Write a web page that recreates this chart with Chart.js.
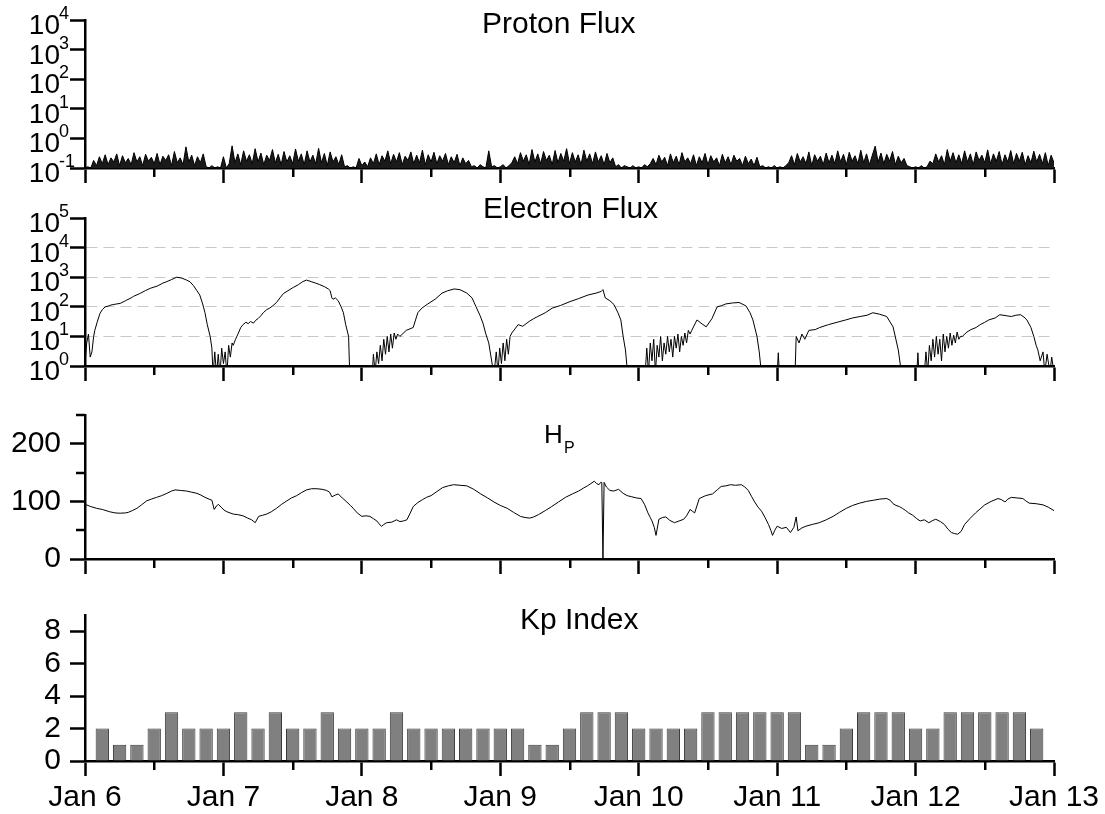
<!DOCTYPE html>
<html><head><meta charset="utf-8">
<script src="https://cdn.jsdelivr.net/npm/chart.js@4.4.1/dist/chart.umd.min.js"></script>
<style>
html,body{margin:0;padding:0;background:#fff;width:1105px;height:814px;overflow:hidden}
canvas{position:absolute;left:0}
</style></head><body>
<canvas id="c1" width="1105" height="190" style="top:0px"></canvas>
<canvas id="c2" width="1105" height="198" style="top:190px"></canvas>
<canvas id="c3" width="1105" height="198" style="top:388px"></canvas>
<canvas id="c4" width="1105" height="226" style="top:588px"></canvas>
<script>
// ---------- data ----------
const dayTicks = [0, 24, 48, 72, 96, 120, 144, 168];
const dayLabels = ['Jan 6', 'Jan 7', 'Jan 8', 'Jan 9', 'Jan 10', 'Jan 11', 'Jan 12', 'Jan 13'];
const minorHours = [12, 36, 60, 84, 108, 132, 156];

const protonDecades = [0.1, 1, 10, 100, 1000, 10000];
const protonExponents = ['-1', '0', '1', '2', '3', '4'];
const protonStepHours = 0.5;
const protonFlux = [
 0.1,0.11,0.1,0.18,0.12,0.24,0.14,0.28,0.13,0.22,0.16,0.3,0.12,0.26,0.15,0.21,0.13,0.33,0.16,0.24,0.12,0.29,0.17,0.23,
 0.14,0.31,0.13,0.25,0.18,0.28,0.12,0.36,0.15,0.22,0.13,0.52,0.16,0.27,0.12,0.24,0.15,0.3,0.11,0.1,0.12,0.1,0.11,0.1,
 0.24,0.1,0.14,0.56,0.15,0.3,0.13,0.38,0.17,0.28,0.14,0.45,0.16,0.32,0.13,0.27,0.18,0.42,0.15,0.29,0.13,0.36,0.16,0.26,
 0.14,0.44,0.17,0.3,0.13,0.38,0.16,0.27,0.14,0.46,0.15,0.31,0.12,0.35,0.16,0.24,0.13,0.28,0.11,0.12,0.1,0.11,0.1,0.21,
 0.12,0.16,0.11,0.22,0.14,0.3,0.13,0.26,0.17,0.38,0.14,0.29,0.16,0.33,0.13,0.25,0.18,0.35,0.14,0.27,0.15,0.4,0.13,0.28,
 0.16,0.34,0.14,0.26,0.17,0.31,0.13,0.24,0.15,0.29,0.12,0.22,0.14,0.18,0.11,0.12,0.1,0.13,0.11,0.1,0.38,0.11,0.12,0.1,
 0.11,0.13,0.1,0.12,0.15,0.24,0.14,0.33,0.17,0.28,0.13,0.42,0.16,0.3,0.14,0.36,0.18,0.27,0.13,0.39,0.15,0.31,0.17,0.45,
 0.14,0.33,0.16,0.28,0.13,0.4,0.17,0.3,0.14,0.35,0.16,0.26,0.13,0.31,0.15,0.22,0.11,0.13,0.1,0.12,0.11,0.1,0.12,0.1,
 0.11,0.1,0.13,0.11,0.14,0.21,0.13,0.27,0.16,0.23,0.12,0.3,0.15,0.25,0.13,0.33,0.16,0.22,0.14,0.28,0.12,0.24,0.15,0.31,
 0.13,0.26,0.16,0.22,0.12,0.29,0.15,0.24,0.13,0.27,0.17,0.21,0.12,0.25,0.14,0.2,0.12,0.23,0.11,0.12,0.1,0.11,0.1,0.12,
 0.1,0.11,0.1,0.12,0.15,0.26,0.13,0.31,0.16,0.24,0.14,0.35,0.12,0.28,0.17,0.25,0.13,0.32,0.15,0.27,0.14,0.38,0.16,0.29,
 0.13,0.34,0.17,0.26,0.14,0.4,0.15,0.3,0.13,0.27,0.55,0.16,0.32,0.14,0.29,0.17,0.36,0.13,0.25,0.15,0.21,0.12,0.11,0.1,
 0.11,0.1,0.12,0.1,0.11,0.17,0.14,0.3,0.16,0.26,0.13,0.42,0.17,0.33,0.15,0.28,0.14,0.38,0.16,0.3,0.13,0.35,0.18,0.27,
 0.15,0.41,0.14,0.3,0.17,0.36,0.13,0.28,0.16,0.39,0.14,0.31,0.17,0.34,0.13,0.26,0.15,0.37,0.16,0.29,0.14,0.33,0.12,0.27,
 0.15
];

const electronDecades = [1, 10, 100, 1000, 10000, 100000];
const electronExponents = ['0', '1', '2', '3', '4', '5'];
const electronGridDecades = [10, 100, 1000, 10000];
const electronHours = [
 0.0,0.3,0.6,0.9,1.2,1.5,1.7,2.1,2.6,3.0,
 3.5,4.0,4.5,5.0,5.5,6.1,7.0,8.0,8.4,9.5,
 10.5,11.3,12.5,13.5,14.2,15.0,15.9,16.8,17.6,18.2,
 18.8,19.4,19.9,20.4,20.8,21.2,21.7,22.0,22.2,22.5,
 22.8,23.1,23.4,23.7,24.0,24.3,24.6,24.9,25.2,25.5,
 25.7,26.1,26.6,27.0,27.4,27.9,28.3,28.7,29.2,29.6,
 30.0,30.5,30.9,31.5,32.0,32.6,33.2,33.8,34.4,35.2,
 36.1,37.0,37.7,38.4,39.2,40.0,40.7,41.5,42.2,42.5,
 42.8,43.0,43.4,43.9,44.4,44.8,45.2,45.7,45.9,49.8,
 50.0,50.3,50.6,50.9,51.2,51.5,51.8,52.1,52.4,52.7,
 53.0,53.3,53.6,53.9,54.2,54.6,55.7,56.9,57.7,58.4,
 59.3,60.7,61.9,62.9,64.0,65.0,66.2,67.1,67.8,68.5,
 69.0,69.5,70.0,70.9,71.3,71.6,71.9,72.2,72.5,72.8,
 73.1,73.4,73.7,74.0,75.1,75.9,77.0,77.8,78.5,79.8,
 81.0,82.4,84.1,85.6,87.2,88.6,89.5,89.8,90.2,91.0,
 91.7,92.4,92.9,93.3,93.7,94.1,97.1,97.4,97.7,98.0,
 98.3,98.6,98.9,99.2,99.5,99.8,100.1,100.4,100.7,101.0,
 101.3,101.6,101.9,102.2,102.5,102.8,103.1,103.4,103.7,104.0,
 104.3,104.6,104.9,105.2,106.1,106.8,107.7,108.7,109.6,110.4,
 111.1,112.3,113.4,114.6,115.3,115.8,116.5,116.9,117.3,120.0,
 120.2,120.4,123.1,123.3,123.8,124.3,124.8,125.5,126.6,127.4,
 128.9,130.4,131.9,133.1,134.4,135.6,136.6,137.8,139.0,140.1,
 141.0,141.6,144.2,144.4,144.6,145.5,145.8,146.1,146.4,146.7,
 147.0,147.3,147.6,147.9,148.2,148.5,148.8,149.1,149.4,149.7,
 150.0,150.3,150.6,150.9,151.2,151.5,151.8,152.1,152.9,153.6,
 154.5,155.2,156.0,156.7,157.8,158.6,159.7,160.6,161.4,162.2,
 162.8,163.3,164.0,164.5,164.9,165.2,165.6,166.1,166.4,166.8,
 167.3,167.6,168.0
];
const electronFlux = [
 1.3,6,12,2,3,10,16,30,60,80,
 100,105,115,120,125,130,160,200,225,280,
 355,420,500,630,710,830,1000,930,800,700,
 520,350,250,125,63,25,10,4,0.5,3,
 0.5,2.5,0.5,4,1.2,3,0.5,5,2,6,
 5,8,13,20,25,30,27,32,28,35,
 40,50,63,80,90,110,140,200,280,350,
 450,560,700,800,710,630,560,480,400,350,
 200,180,200,160,100,63,25,10,0.5,0.5,
 2.5,0.6,3,1.2,5,1.5,8,2.5,10,3,
 12,4,13,8,12,10,16,20,63,90,
 120,180,290,350,400,380,290,200,100,50,
 28,12,6,0.5,3,0.6,4,1.2,6,1.5,
 8,2.5,10,13,25,22,32,40,47,63,
 90,110,150,190,250,290,330,380,200,160,
 120,63,36,10,3.5,0.5,0.5,4,0.6,6,
 1.5,8,0.6,5,2,10,1.5,6,2.5,10,
 3,8,2,10,4,12,3,10,5,13,
 6,16,12,16,36,28,21,40,100,110,
 125,135,140,107,63,36,10,3,0.5,0.5,
 2.8,0.5,0.5,10,6,12,8,16,17,20,
 25,30,36,42,47,52,63,56,47,21,
 3.5,0.5,0.5,2.8,0.5,0.5,3,0.6,5,1.5,
 8,2,10,2.5,8,1.5,12,3,10,4,
 13,5,11,6,14,8,10,10,14,17,
 20,25,30,36,42,54,50,47,52,54,
 45,36,20,10,5,3.5,1.5,3,0.6,2.5,
 0.6,2,0.6
];

const hpTicks = [0, 100, 200];
const hpMinorTicks = [50, 150, 250];
const hpHours = [
 0,1.0,2.0,3.0,4.3,5.2,6.1,7.0,7.5,8.2,
 9.0,9.8,10.7,11.5,12.4,13.3,14.2,15.0,15.6,16.6,
 17.6,18.5,19.4,20.1,20.8,21.5,22.0,22.4,22.8,23.1,
 23.6,24.1,24.6,25.7,26.5,27.4,28.2,28.9,29.5,30.1,
 30.8,31.5,32.3,33.2,34.1,35.0,35.8,36.7,37.5,38.4,
 39.3,40.2,41.1,41.9,42.4,42.8,43.4,43.9,44.6,45.4,
 46.0,46.5,47.2,48.0,48.7,49.4,50.0,50.6,51.0,51.4,
 51.8,52.3,53.2,54.0,54.6,55.2,55.8,56.4,56.9,57.7,
 58.5,59.2,60.0,61.0,62.0,63.0,63.9,65.0,66.2,67.4,
 68.6,69.8,70.9,72.0,73.2,74.3,75.5,76.3,77.1,77.8,
 78.6,79.8,80.9,82.1,83.3,84.5,85.6,86.4,87.1,87.7,
 88.3,88.7,89.1,89.4,89.6,89.8,90.0,90.4,91.0,91.7,
 92.5,93.3,94.0,94.8,95.6,96.4,97.0,97.6,98.0,98.3,
 98.7,99.0,99.5,100.1,100.7,101.4,102.2,103.0,103.8,104.3,
 104.9,105.3,105.7,106.5,107.6,108.8,109.6,110.3,111.1,111.9,
 112.8,113.8,114.4,115.0,115.6,116.1,116.7,117.3,117.9,118.5,
 118.9,119.2,119.6,120.0,120.8,121.6,122.3,122.9,123.3,123.6,
 124.3,125.0,126.1,127.3,128.5,129.7,130.8,132.0,133.1,134.3,
 135.5,136.7,137.8,139.0,139.6,140.1,140.6,141.2,141.7,142.3,
 142.8,143.5,144.2,144.8,145.5,146.3,147.0,147.5,148.3,149.0,
 149.6,150.2,150.8,151.3,151.9,152.5,153.4,154.4,155.2,156.0,
 157.1,158.3,158.9,159.5,160.0,160.6,161.6,162.6,163.1,163.7,
 164.9,166.1,167.0,168.0
];
const hpValues = [
 95,91,88,86,82,80,79.5,80,81,84,
 88,94,101,104,107,110,114,118,120,119,
 118,116,114,111,107,104,102,86,92,95,
 90,85,82,78,77,75,71,68,63,74,
 76,78,82,88,95,101,106,110,115,120,
 122,122,121,119,116,108,111,113,106,99,
 93,88,80,74,75,74,70,66,61,56.6,
 60,63,64,68,65,66,68,80,91,98,
 103,107,110,117,124,127,129,128,127,121,
 113,106,99,93,88,81,74,72,71,73,
 77,84,91,99,107,113,118,123,127,131,
 135,131,129,133,133,0,133,125,119,118,
 121,114,110,108,106,105,95,80,72,66,
 55,41,69,72,73,67,63,66,69,75,
 86,83,80,105,110,113,120,126,127,129,
 128,129,125,119,108,99,90,83,72,60,
 50,41,50,57,53,55,46,55,73,49,
 54,57,60,63,68,74,81,88,93,97,
 100,102,104,105,102,96,93,91,88,84,
 80,76,70,66,68,63,67,69,65,60,
 52,46,44,43,48,60,70,80,87,94,
 100,105,103,99,104,107,106,105,101,97,
 96,94,90,84
];

const kpTicks = [0, 2, 4, 6, 8];
const kpHours = [3,6,9,12,15,18,21,24,27,30,33,36,39,42,45,48,51,54,57,60,63,66,69,72,75,78,81,84,87,90,93,96,99,102,105,108,111,114,117,120,123,126,129,132,135,138,141,144,147,150,153,156,159,162,165];
const kpValues = [2,1,1,2,3,2,2,2,3,2,3,2,2,3,2,2,2,3,2,2,2,2,2,2,2,1,1,2,3,3,3,2,2,2,2,3,3,3,3,3,3,1,1,2,3,3,3,2,2,3,3,3,3,3,2];

const titles = { proton: 'Proton Flux', electron: 'Electron Flux', hp: 'H', hpSub: 'P', kp: 'Kp Index' };

// ---------- helpers ----------
const FONT = "'Liberation Sans', Arial, Helvetica, sans-serif";
Chart.defaults.font.family = FONT;
Chart.defaults.color = '#000';
Chart.defaults.animation = false;

function xAxis(showLabels, height) {
  return {
    type: 'linear', position: 'bottom', min: 0, max: 168, offset: false, z: 1,
    afterBuildTicks: s => { s.ticks = dayTicks.map(v => ({ value: v })); },
    afterFit: s => { s.height = height; },
    grid: { display: true, drawOnChartArea: false, drawTicks: true, tickLength: 15, tickWidth: 2.5, tickColor: '#000', offset: false },
    border: { display: true, color: '#000', width: 2.5 },
    ticks: { display: showLabels, autoSkip: false, maxRotation: 0, minRotation: 0, padding: 4, color: '#000',
      font: { family: FONT, size: 30 }, callback: (v, i) => dayLabels[i] }
  };
}
function yAxisBase(tickVals, showLabels) {
  return {
    position: 'left', z: 1,
    afterFit: s => { s.width = 85; },
    afterBuildTicks: s => { s.ticks = tickVals.map(v => ({ value: v })); },
    grid: { display: true, drawOnChartArea: false, drawTicks: true, tickLength: 15, tickWidth: 2.5, tickColor: '#000' },
    border: { display: true, color: '#000', width: 2.5 },
    ticks: { display: showLabels, autoSkip: false, padding: 9, color: '#000', font: { family: FONT, size: 30 } }
  };
}
function minorXTicks(chart, ctx) {
  const xs = chart.scales.x, y0 = chart.chartArea.bottom;
  ctx.strokeStyle = '#000'; ctx.lineWidth = 2.5;
  minorHours.forEach(h => {
    const x = Math.round(xs.getPixelForValue(h)) + 0.25;
    ctx.beginPath(); ctx.moveTo(x, y0); ctx.lineTo(x, y0 + 9); ctx.stroke();
  });
}
function logLabels(chart, ctx, vals, exps) {
  const ys = chart.scales.y;
  ctx.fillStyle = '#000'; ctx.textBaseline = 'alphabetic';
  vals.forEach((v, i) => {
    const y = ys.getPixelForValue(v);
    ctx.font = '28px ' + FONT; ctx.textAlign = 'right'; ctx.fillText('10', 60, y + 14);
    ctx.font = '18px ' + FONT; ctx.textAlign = 'left'; ctx.fillText(exps[i], 59, y - 1);
  });
}
function title(ctx, text, x, y, size) {
  ctx.fillStyle = '#000'; ctx.font = size + 'px ' + FONT; ctx.textAlign = 'left'; ctx.textBaseline = 'alphabetic';
  ctx.fillText(text, x, y);
}
function deco(fn) { return { id: 'deco', afterDraw(chart) { const ctx = chart.ctx; ctx.save(); fn(chart, ctx); ctx.restore(); } }; }
const baseOpts = (padTop) => ({
  responsive: false, animation: false, events: [],
  layout: { padding: { top: padTop, left: 0, right: 51, bottom: 0 } },
  plugins: { legend: { display: false }, tooltip: { enabled: false }, title: { display: false } }
});
const lineDs = (pts) => ({ data: pts, borderColor: '#000', borderWidth: 1, pointRadius: 0, tension: 0, fill: false });

// ---------- panel 1: proton ----------
const pDs = lineDs(protonFlux.map((v, i) => ({ x: i * protonStepHours, y: v })));
pDs.fill = 'start'; pDs.backgroundColor = '#1a1a1a';
new Chart(document.getElementById('c1'), {
  type: 'line',
  data: { datasets: [pDs] },
  options: Object.assign(baseOpts(20), {
    scales: { x: xAxis(false, 22), y: Object.assign(yAxisBase(protonDecades, false), { type: 'logarithmic', min: 0.1, max: 10000 }) }
  }),
  plugins: [deco((c, ctx) => { minorXTicks(c, ctx); logLabels(c, ctx, protonDecades, protonExponents); title(ctx, titles.proton, 482, 33, 30); })]
});

// ---------- panel 2: electron ----------
const eY = yAxisBase(electronDecades, false);
eY.type = 'logarithmic'; eY.min = 1; eY.max = 100000; eY.z = 0;
eY.grid = { display: true, drawOnChartArea: true, drawTicks: true, tickLength: 15, tickWidth: 2.5, tickColor: '#000', lineWidth: 1,
  color: c => (c.tick && electronGridDecades.includes(c.tick.value)) ? '#c8c8c8' : 'rgba(0,0,0,0)' };
eY.border = { display: true, color: '#000', width: 2.5, dash: [11, 6] };
new Chart(document.getElementById('c2'), {
  type: 'line',
  data: { datasets: [lineDs(electronHours.map((h, i) => ({ x: h, y: electronFlux[i] })))] },
  options: Object.assign(baseOpts(28), { scales: { x: xAxis(false, 22), y: eY } }),
  plugins: [deco((c, ctx) => { minorXTicks(c, ctx); logLabels(c, ctx, electronDecades, electronExponents); title(ctx, titles.electron, 483, 28, 30); })]
});

// ---------- panel 3: Hp ----------
new Chart(document.getElementById('c3'), {
  type: 'line',
  data: { datasets: [lineDs(hpHours.map((h, i) => ({ x: h, y: hpValues[i] })))] },
  options: Object.assign(baseOpts(27), {
    scales: { x: xAxis(false, 22), y: Object.assign(yAxisBase(hpTicks, true), { type: 'linear', min: 0, max: 250 }) }
  }),
  plugins: [deco((c, ctx) => {
    minorXTicks(c, ctx);
    const ys = c.scales.y, x0 = c.chartArea.left;
    ctx.strokeStyle = '#000'; ctx.lineWidth = 2.5;
    hpMinorTicks.forEach(v => { const y = Math.round(ys.getPixelForValue(v)); ctx.beginPath(); ctx.moveTo(x0 - 9, y); ctx.lineTo(x0, y); ctx.stroke(); });
    title(ctx, titles.hp, 544, 55, 26);
    title(ctx, titles.hpSub, 564, 65, 16);
  })]
});

// ---------- panel 4: Kp ----------
new Chart(document.getElementById('c4'), {
  type: 'bar',
  data: { datasets: [{ data: kpHours.map((h, i) => ({ x: h, y: kpValues[i] })), backgroundColor: '#808080', borderColor: '#3a3a3a', borderWidth: 1,
    barPercentage: 0.77, categoryPercentage: 1.0 }] },
  options: Object.assign(baseOpts(24), {
    scales: { x: xAxis(true, 53), y: Object.assign(yAxisBase(kpTicks, true), { type: 'linear', min: 0, max: 9 }) }
  }),
  plugins: [deco((c, ctx) => { minorXTicks(c, ctx); title(ctx, titles.kp, 520, 41, 30); })]
});
</script>
</body></html>
